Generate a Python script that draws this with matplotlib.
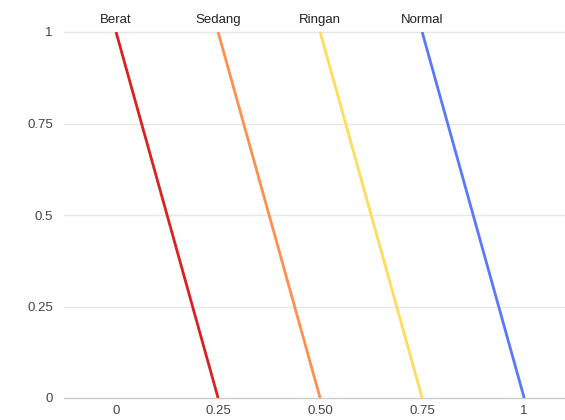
import matplotlib
matplotlib.use("Agg")
import matplotlib.pyplot as plt

# Membership functions: each category falls linearly from 1 to 0
categories = ["Berat", "Sedang", "Ringan", "Normal"]
start_x = [0.0, 0.25, 0.50, 0.75]
end_x = [0.25, 0.50, 0.75, 1.0]
top_y = [1, 1, 1, 1]
bottom_y = [0, 0, 0, 0]
colors = ["#dc2020", "#ff8f4f", "#ffdc5a", "#5a78ff"]

x_ticks = [0, 0.25, 0.50, 0.75, 1]
x_tick_labels = ["0", "0.25", "0.50", "0.75", "1"]
y_ticks = [0, 0.25, 0.5, 0.75, 1]
y_tick_labels = ["0", "0.25", "0.5", "0.75", "1"]

plt.rcParams["font.family"] = ["Liberation Sans", "DejaVu Sans"]

fig = plt.figure(figsize=(5.65, 4.2), dpi=100)
ax = fig.add_axes([64 / 565, 22 / 420, 1 - 64 / 565, 366 / 420])

for name, x0, x1, y0, y1, c in zip(categories, start_x, end_x, top_y, bottom_y, colors):
    ax.plot([x0, x1], [y0, y1], color=c, lw=2.0, solid_capstyle="butt", zorder=3)
    ax.annotate(name, (x0, y0), xytext=(0, 4.5), textcoords="offset points",
                ha="center", va="bottom", fontsize=9.5, color="#222222",
                annotation_clip=False)

ax.set_xlim(-0.1275, 1.1)
ax.set_ylim(0, 1)

ax.set_xticks(x_ticks)
ax.set_xticklabels(x_tick_labels)
ax.set_yticks(y_ticks)
ax.set_yticklabels(y_tick_labels)
ax.tick_params(axis="both", length=0, labelsize=9.5, colors="#444444")
ax.tick_params(axis="x", pad=5)
ax.tick_params(axis="y", pad=8)

for y in y_ticks:
    ax.axhline(y, color="#cccccc" if y == 0 else "#e6e6e6", lw=1.0, zorder=1,
               clip_on=False)

for s in ax.spines.values():
    s.set_visible(False)

fig.savefig("out.png", dpi=100)
